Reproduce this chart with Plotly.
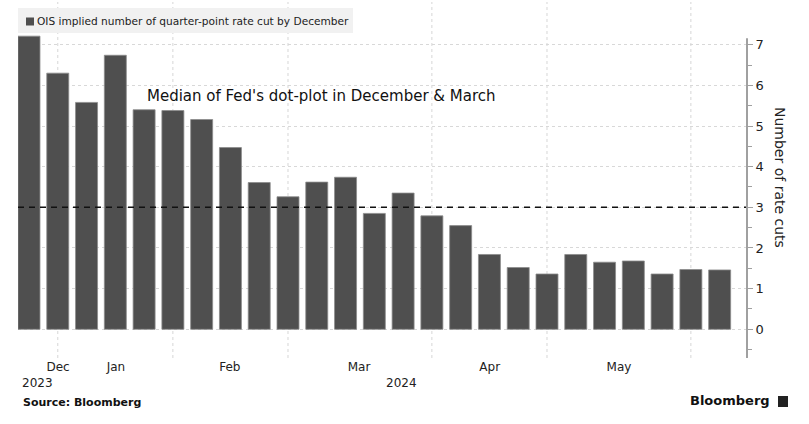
import plotly.graph_objects as go

# ---- data ----
week_index = list(range(25))
rate_cuts = [7.21, 6.30, 5.58, 6.74, 5.40, 5.38, 5.16, 4.47, 3.61, 3.26,
             3.62, 3.74, 2.85, 3.35, 2.79, 2.55, 1.84, 1.52, 1.36, 1.84,
             1.65, 1.68, 1.36, 1.47, 1.46]
fed_median = 3
month_labels = ["Dec", "Jan", "Feb", "Mar", "Apr", "May"]
month_label_pos = [1.01, 3.02, 6.98, 11.47, 16.01, 20.5]
year_labels = ["2023", "2024"]
year_label_pos = [0.28, 12.96]
grid_pos = [1, 5, 9, 14, 18, 23]
y_ticks = [0, 1, 2, 3, 4, 5, 6, 7]
y_minor = [-0.5, 0.5, 1.5, 2.5, 3.5, 4.5, 5.5, 6.5]

series_name = "OIS implied number of quarter-point rate cut by December"
FONT = "DejaVu Sans"
BAR = "#4f4f4f"

fig = go.Figure()
fig.add_trace(go.Bar(
    x=week_index, y=rate_cuts, name=series_name,
    marker=dict(color=BAR, line=dict(color="#8c8c8c", width=0.8)),
    showlegend=False, hoverinfo="y",
))

shapes = []
for g in grid_pos:
    shapes.append(dict(type="line", xref="x", yref="paper", x0=g, x1=g, y0=0, y1=1,
                       line=dict(color="#d6d6d6", width=1, dash="dot"), layer="below"))
# dashed median line
shapes.append(dict(type="line", xref="paper", yref="y", x0=0, x1=1, y0=fed_median, y1=fed_median,
                   line=dict(color="#111111", width=1.5, dash="6px,5px"), layer="above"))
# right axis line
shapes.append(dict(type="line", xref="paper", yref="y", x0=1, x1=1, y0=-0.706, y1=7.16,
                   line=dict(color="#a0a0a0", width=2)))
# legend box
shapes.append(dict(type="rect", xref="paper", yref="paper",
                   x0=0, x1=(353 - 18) / 729, y0=(358 - 33) / 356, y1=(358 - 8) / 356,
                   fillcolor="#f1f1f1", line=dict(width=0), layer="above"))
shapes.append(dict(type="rect", xref="paper", yref="paper",
                   x0=(26 - 18) / 729, x1=(34 - 18) / 729, y0=(358 - 25.5) / 356, y1=(358 - 17.5) / 356,
                   fillcolor=BAR, line=dict(width=0), layer="above"))
# bloomberg icon
shapes.append(dict(type="rect", xref="paper", yref="paper",
                   x0=(778 - 18) / 729, x1=(788 - 18) / 729, y0=(358 - 407) / 356, y1=(358 - 396) / 356,
                   fillcolor="#222222", line=dict(width=0)))

annotations = [
    dict(text=series_name, xref="paper", yref="paper", x=(35 - 18) / 729, y=(358 - 21) / 356,
         xanchor="left", yanchor="middle", showarrow=False,
         font=dict(family=FONT, size=10.6, color="#222222")),
    dict(text="Median of Fed's dot-plot in December & March", xref="paper", yref="paper",
         x=(145 - 18) / 729, y=(358 - 96) / 356, xanchor="left", yanchor="middle", showarrow=False,
         font=dict(family=FONT, size=15, color="#111111")),
    dict(text="Number of rate cuts", xref="paper", yref="paper", x=(780 - 18) / 729, y=(358 - 178) / 356,
         xanchor="center", yanchor="middle", textangle=90, showarrow=False,
         font=dict(family=FONT, size=14, color="#222222")),
    dict(text="<b>Source: Bloomberg</b>", xref="paper", yref="paper", x=(21 - 18) / 729, y=(358 - 402) / 356,
         xanchor="left", yanchor="middle", showarrow=False,
         font=dict(family=FONT, size=11, color="#111111")),
    dict(text="<b>Bloomberg</b>", xref="paper", yref="paper", x=(772 - 18) / 729, y=(358 - 400) / 356,
         xanchor="right", yanchor="middle", showarrow=False,
         font=dict(family=FONT, size=13, color="#111111")),
]
for lab, pos in zip(year_labels, year_label_pos):
    annotations.append(dict(text=lab, xref="x", yref="paper", x=pos, y=(358 - 383) / 356,
                            xanchor="center", yanchor="middle", showarrow=False,
                            font=dict(family=FONT, size=12, color="#222222")))

fig.update_layout(
    width=809, height=424,
    margin=dict(l=18, r=62, t=2, b=66),
    paper_bgcolor="white", plot_bgcolor="white",
    bargap=0.236,
    showlegend=False,
    shapes=shapes, annotations=annotations,
    font=dict(family=FONT, color="#222222"),
    xaxis=dict(range=[-0.382, 24.95], tickvals=month_label_pos, ticktext=month_labels,
               showgrid=False, zeroline=False, showline=False, ticks="",
               tickfont=dict(family=FONT, size=12, color="#222222"), fixedrange=True),
    yaxis=dict(side="right", range=[-0.706, 8.05], tickvals=y_ticks,
               showgrid=True, gridcolor="#d8d8d8", griddash="dot", gridwidth=1,
               zeroline=False, showline=False,
               ticks="outside", ticklen=5, tickcolor="#a0a0a0", tickwidth=1,
               minor=dict(tickvals=y_minor, ticks="outside", ticklen=4, tickcolor="#a0a0a0", showgrid=False),
               tickfont=dict(family=FONT, size=13, color="#222222"), fixedrange=True),
)

fig.write_html("out.html", config={"displayModeBar": False},
               post_script="document.body.style.margin='0';document.body.style.overflow='hidden';")
